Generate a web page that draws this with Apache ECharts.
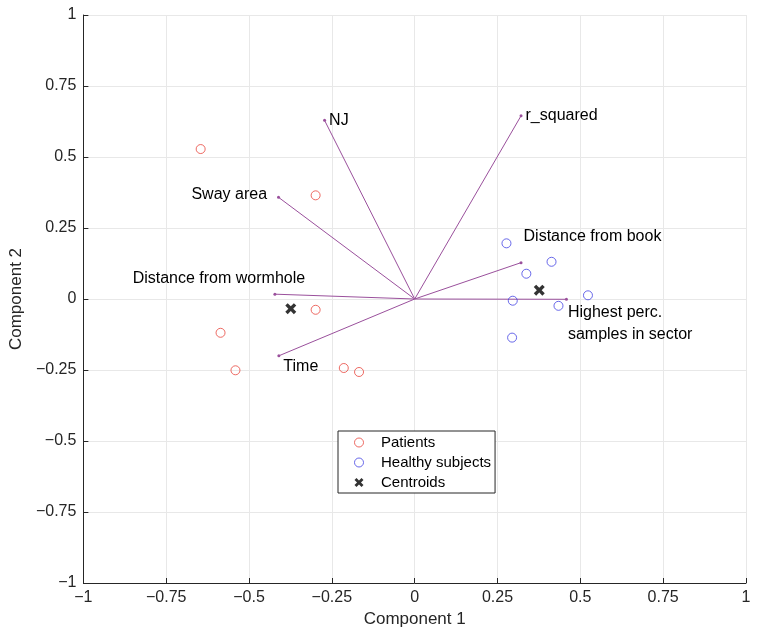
<!DOCTYPE html>
<html>
<head>
<meta charset="utf-8">
<script src="https://cdn.jsdelivr.net/npm/echarts@6/dist/echarts.min.js"></script>
<style>
  html, body { margin: 0; padding: 0; background: #fff; }
  #chart { width: 766px; height: 636px; }
</style>
</head>
<body>
<div id="chart"></div>
<script>
// scores (component 1, component 2)
var patients = [[-0.646, 0.528], [-0.299, 0.365], [-0.299, -0.038], [-0.586, -0.119],
                [-0.541, -0.251], [-0.214, -0.243], [-0.168, -0.257]];
var healthy = [[0.277, 0.196], [0.413, 0.131], [0.337, 0.089], [0.296, -0.006],
               [0.523, 0.013], [0.434, -0.024], [0.294, -0.136]];
var centroids = [[-0.374, -0.034], [0.376, 0.031]];

// loadings (vector end points)
var varNames = ['NJ', 'r_squared', 'Sway area', 'Distance from wormhole',
                'Distance from book', 'Highest perc.\nsamples in sector', 'Time'];
var loadX = [-0.272, 0.321, -0.411, -0.422, 0.321, 0.458, -0.410];
var loadY = [0.629, 0.645, 0.358, 0.017, 0.128, -0.001, -0.200];

var font = '"Liberation Sans", Arial, Helvetica, sans-serif';
var vecColor = '#9a509c';

// label placement per vector (style only)
var labelPos = [
  {position: 'right', distance: 3, offset: [0, 0]},
  {position: 'right', distance: 3, offset: [0, 0]},
  {position: 'left', distance: 10, offset: [0, -3]},
  {position: 'top', distance: 3, offset: [-56, 0]},
  {position: 'right', distance: 3, offset: [-2, -26]},
  {position: 'right', distance: 0, offset: [0, 24]},
  {position: 'right', distance: 3, offset: [0, 11]}
];

function fmt(v) {
  return String(v).replace('-', '\u2212');
}

var series = [];
for (var i = 0; i < varNames.length; i++) {
  var lp = labelPos[i];
  series.push({
    type: 'line',
    silent: true,
    data: [[0, 0], {
      value: [loadX[i], loadY[i]],
      symbol: 'circle',
      symbolSize: 3,
      label: {
        show: true,
        formatter: varNames[i],
        position: lp.position,
        distance: lp.distance,
        offset: lp.offset,
        color: '#000',
        fontFamily: font,
        fontSize: 16,
        lineHeight: 22
      }
    }],
    showSymbol: true,
    symbol: 'none',
    lineStyle: {color: vecColor, width: 1},
    itemStyle: {color: vecColor},
    z: 2
  });
}

var xPath = 'path://M0,2.2 L2.2,0 L5,2.8 L7.8,0 L10,2.2 L7.2,5 L10,7.8 L7.8,10 L5,7.2 L2.2,10 L0,7.8 L2.8,5 Z';

series.push({
  name: 'Patients',
  type: 'scatter',
  data: patients,
  symbol: 'circle',
  symbolSize: 9,
  itemStyle: {color: 'rgba(255,255,255,0)', borderColor: '#e8463d', borderWidth: 1},
  z: 3
});
series.push({
  name: 'Healthy subjects',
  type: 'scatter',
  data: healthy,
  symbol: 'circle',
  symbolSize: 9,
  itemStyle: {color: 'rgba(255,255,255,0)', borderColor: '#4343e3', borderWidth: 1},
  z: 3
});
series.push({
  name: 'Centroids',
  type: 'scatter',
  data: centroids,
  symbol: xPath,
  symbolSize: 11,
  itemStyle: {color: '#000'},
  z: 4
});

var axisCommon = {
  type: 'value',
  min: -1,
  max: 1,
  interval: 0.25,
  nameLocation: 'middle',
  nameTextStyle: {color: '#262626', fontFamily: font, fontSize: 17},
  axisLine: {show: true, onZero: false, lineStyle: {color: '#262626', width: 1}},
  axisTick: {show: true, inside: true, length: 5, lineStyle: {color: '#262626'}},
  axisLabel: {color: '#262626', fontFamily: font, fontSize: 16, margin: 7, formatter: fmt},
  splitLine: {show: true, lineStyle: {color: '#e8e8e8', width: 1}}
};

var chart = echarts.init(document.getElementById('chart'), null, {renderer: 'canvas'});
chart.setOption({
  backgroundColor: '#fff',
  animation: false,
  grid: {left: 82, right: 20, top: 15, bottom: 53, containLabel: false},
  xAxis: Object.assign({}, axisCommon, {name: 'Component 1', nameGap: 27}),
  yAxis: Object.assign({}, axisCommon, {name: 'Component 2', nameGap: 56}),
  legend: {
    data: [
      {name: 'Patients', itemStyle: {borderWidth: 1}},
      {name: 'Healthy subjects', itemStyle: {borderWidth: 1}},
      {name: 'Centroids', itemStyle: {borderWidth: 0}}
    ],
    orient: 'vertical',
    left: 338,
    top: 431,
    padding: [4, 4, 3, 16],
    itemGap: 5,
    itemWidth: 34,
    itemHeight: 9,
    borderColor: '#262626',
    borderWidth: 1,
    borderRadius: 0,
    backgroundColor: '#fff',
    textStyle: {color: '#000', fontFamily: font, fontSize: 15}
  },
  series: series
});
</script>
</body>
</html>
